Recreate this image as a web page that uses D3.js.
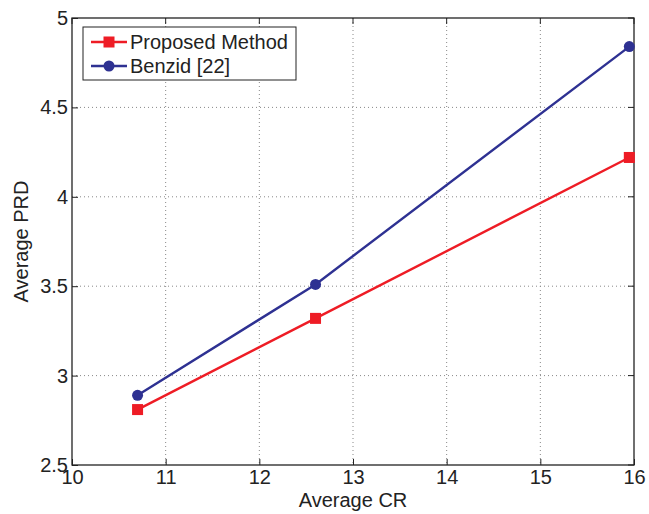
<!doctype html>
<html>
<head>
<meta charset="utf-8">
<script src="https://d3js.org/d3.v7.min.js"></script>
<style>
  body { margin: 0; background: #fff; }
  text { font-family: "Liberation Sans", Arial, sans-serif; fill: #222; }
</style>
</head>
<body>
<div id="chart"></div>
<script>
// data
var crValues = [10.7, 12.6, 15.95];
var proposedPRD = [2.81, 3.32, 4.22];
var benzidPRD = [2.89, 3.51, 4.84];
var seriesNames = ["Proposed Method", "Benzid [22]"];
var xTicks = [10, 11, 12, 13, 14, 15, 16];
var yTicks = [2.5, 3, 3.5, 4, 4.5, 5];

var W = 649, H = 514;
var margin = {top: 18, right: 15, bottom: 49, left: 72};
var width = W - margin.left - margin.right,
    height = H - margin.top - margin.bottom;
var fs = "20px";

var svg = d3.select("#chart").append("svg")
    .attr("width", W).attr("height", H);
var g = svg.append("g")
    .attr("transform", "translate(" + margin.left + "," + margin.top + ")");

var x = d3.scaleLinear().domain([10, 16]).range([0, width]);
var y = d3.scaleLinear().domain([2.5, 5]).range([height, 0]);

// grid
g.append("g").selectAll("line").data(xTicks.slice(1, -1)).enter().append("line")
    .attr("x1", d => x(d)).attr("x2", d => x(d))
    .attr("y1", 0).attr("y2", height)
    .attr("stroke", "#888").attr("stroke-dasharray", "1,3");
g.append("g").selectAll("line").data(yTicks.slice(1, -1)).enter().append("line")
    .attr("y1", d => y(d)).attr("y2", d => y(d))
    .attr("x1", 0).attr("x2", width)
    .attr("stroke", "#888").attr("stroke-dasharray", "1,3");

// axes
var xAxis = g.append("g").attr("transform", "translate(0," + height + ")")
    .call(d3.axisBottom(x).tickValues(xTicks).tickSize(-6).tickPadding(5).tickFormat(d3.format("d")));
var yAxis = g.append("g")
    .call(d3.axisLeft(y).tickValues(yTicks).tickSize(-6).tickPadding(4).tickFormat(d => String(d)));
[xAxis, yAxis].forEach(function (a) {
  a.select(".domain").remove();
  a.selectAll("text").style("font-size", fs).attr("fill", "#222");
  a.selectAll("line").attr("stroke", "#222");
});
// top and right ticks
g.append("g").selectAll("line").data(xTicks).enter().append("line")
    .attr("x1", d => x(d)).attr("x2", d => x(d)).attr("y1", 0).attr("y2", 6).attr("stroke", "#222");
g.append("g").selectAll("line").data(yTicks).enter().append("line")
    .attr("y1", d => y(d)).attr("y2", d => y(d)).attr("x1", width).attr("x2", width - 6).attr("stroke", "#222");

g.append("rect").attr("width", width).attr("height", height)
    .attr("fill", "none").attr("stroke", "#222").attr("stroke-width", 1.3);

var line = d3.line().x(d => x(d[0])).y(d => y(d[1]));
var red = "#ee1c25", blue = "#2e3192";
var redPts = crValues.map((c, i) => [c, proposedPRD[i]]);
var bluePts = crValues.map((c, i) => [c, benzidPRD[i]]);

g.append("path").datum(bluePts).attr("d", line)
    .attr("fill", "none").attr("stroke", blue).attr("stroke-width", 2.4);
g.selectAll(".bdot").data(bluePts).enter().append("circle")
    .attr("cx", d => x(d[0])).attr("cy", d => y(d[1])).attr("r", 5.5).attr("fill", blue);

g.append("path").datum(redPts).attr("d", line)
    .attr("fill", "none").attr("stroke", red).attr("stroke-width", 2.4);
g.selectAll(".rsq").data(redPts).enter().append("rect")
    .attr("x", d => x(d[0]) - 5.5).attr("y", d => y(d[1]) - 5.5)
    .attr("width", 11).attr("height", 11).attr("fill", red);

// axis labels
svg.append("text").attr("x", margin.left + width / 2).attr("y", 507)
    .attr("text-anchor", "middle").style("font-size", fs).text("Average CR");
svg.append("text").attr("transform", "translate(28," + (margin.top + height / 2) + ") rotate(-90)")
    .attr("text-anchor", "middle").style("font-size", fs).text("Average PRD");

// legend
var lg = svg.append("g").attr("transform", "translate(83,27)");
lg.append("rect").attr("width", 213).attr("height", 53)
    .attr("fill", "#fff").attr("stroke", "#222").attr("stroke-width", 1);
[red, blue].forEach(function (c, i) {
  var yy = 15 + i * 24;
  lg.append("line").attr("x1", 8).attr("x2", 44).attr("y1", yy).attr("y2", yy)
      .attr("stroke", c).attr("stroke-width", 2.4);
  if (i === 0) {
    lg.append("rect").attr("x", 20.5).attr("y", yy - 5.5).attr("width", 11).attr("height", 11).attr("fill", c);
  } else {
    lg.append("circle").attr("cx", 26).attr("cy", yy).attr("r", 5.5).attr("fill", c);
  }
  lg.append("text").attr("x", 47).attr("y", yy + 7).style("font-size", fs).text(seriesNames[i]);
});
</script>
</body>
</html>
